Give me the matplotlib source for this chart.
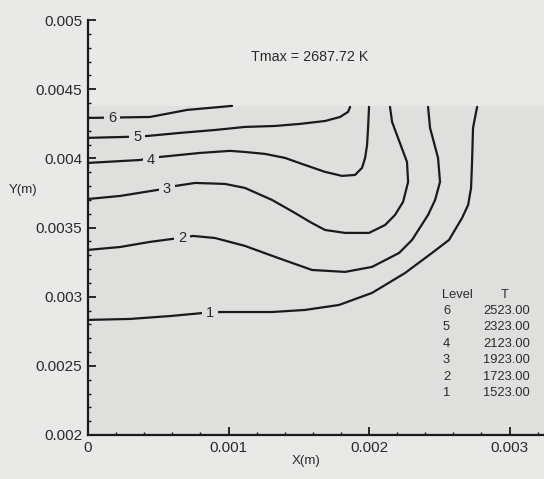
"""
Temperature contours, Tmax = 2687.72 K
"""

import matplotlib

matplotlib.use("Agg")
import matplotlib.pyplot as plt
from matplotlib.ticker import FixedLocator, MultipleLocator

plt.rcParams["font.family"] = ["Liberation Sans", "DejaVu Sans"]

# contour levels (legend table)
levels = [6, 5, 4, 3, 2, 1]
level_temps = [2523.00, 2323.00, 2123.00, 1923.00, 1723.00, 1523.00]

# contour lines, x and y in metres
c6_x = [0, 0.000441, 0.000705, 0.001025]
c6_y = [0.004292, 0.004299, 0.004350, 0.004379]

c5_x = [0, 0.000270, 0.000427, 0.000655, 0.000904, 0.001117, 0.001331,
        0.001509, 0.001687, 0.001794, 0.001851, 0.001865]
c5_y = [0.004148, 0.004155, 0.004162, 0.004184, 0.004205, 0.004227, 0.004234,
        0.004249, 0.004270, 0.004299, 0.004336, 0.004372]

c4_x = [0, 0.000370, 0.000512, 0.000797, 0.001011, 0.001117, 0.001260,
        0.001402, 0.001544, 0.001687, 0.001808, 0.001900, 0.001950,
        0.001972, 0.001986, 0.001993, 0.002000]
c4_y = [0.003967, 0.003988, 0.004010, 0.004039, 0.004054, 0.004046, 0.004032,
        0.004003, 0.003952, 0.003902, 0.003873, 0.003880, 0.003931,
        0.004003, 0.004097, 0.004220, 0.004372]

c3_x = [0, 0.000228, 0.000498, 0.000619, 0.000762, 0.000975, 0.001117,
        0.001310, 0.001473, 0.001580, 0.001687, 0.001829, 0.002000,
        0.002114, 0.002185, 0.002242, 0.002278, 0.002270, 0.002206,
        0.002164, 0.002149]
c3_y = [0.003706, 0.003728, 0.003772, 0.003800, 0.003822, 0.003815, 0.003786,
        0.003699, 0.003605, 0.003540, 0.003482, 0.003461, 0.003461,
        0.003518, 0.003591, 0.003685, 0.003829, 0.003974, 0.004148,
        0.004263, 0.004372]

c2_x = [0, 0.000228, 0.000441, 0.000598, 0.000747, 0.000904, 0.001117,
        0.001352, 0.001594, 0.001829, 0.002021, 0.002214, 0.002306,
        0.002420, 0.002470, 0.002505, 0.002491, 0.002434, 0.002420]
c2_y = [0.003338, 0.003359, 0.003396, 0.003417, 0.003439, 0.003424, 0.003367,
        0.003280, 0.003193, 0.003179, 0.003215, 0.003316, 0.003410,
        0.003591, 0.003699, 0.003829, 0.004003, 0.004220, 0.004372]

c1_x = [0, 0.000299, 0.000584, 0.000819, 0.000940, 0.001310, 0.001544,
        0.001786, 0.002021, 0.002256, 0.002448, 0.002569, 0.002662,
        0.002705, 0.002726, 0.002733, 0.002740, 0.002769]
c1_y = [0.002832, 0.002839, 0.002860, 0.002882, 0.002889, 0.002889, 0.002904,
        0.002940, 0.003027, 0.003171, 0.003316, 0.003410, 0.003569,
        0.003663, 0.003786, 0.003974, 0.004220, 0.004372]

# where the level numbers sit on the lines
label_x = [0.000171, 0.000349, 0.000448, 0.000562, 0.000669, 0.000868]
label_y = [0.004292, 0.004155, 0.003988, 0.003779, 0.003424, 0.002882]

x_ticks = [0, 0.001, 0.002, 0.003]
x_tick_labels = ["0", "0.001", "0.002", "0.003"]
y_ticks = [0.002, 0.0025, 0.003, 0.0035, 0.004, 0.0045, 0.005]
y_tick_labels = ["0.002", "0.0025", "0.003", "0.0035", "0.004", "0.0045", "0.005"]

domain_top = 0.00438

bg = "#e9e9e7"
domain_bg = "#dfdfdd"
ink = "#1a1a1a"
text_col = "#2a2a2a"

fig = plt.figure(figsize=(5.44, 4.79), dpi=100, facecolor=bg)
ax = fig.add_axes([88 / 544, 44 / 479, 456 / 544, 415 / 479])
ax.set_facecolor(bg)
ax.set_xlim(0, 0.003245)
ax.set_ylim(0.002, 0.005)

# shaded domain
ax.fill_between([0, 0.003245], 0.002, domain_top, color=domain_bg, lw=0, zorder=0)

lines = [(c6_x, c6_y), (c5_x, c5_y), (c4_x, c4_y),
         (c3_x, c3_y), (c2_x, c2_y), (c1_x, c1_y)]
for xs, ys in lines:
    ax.plot(xs, ys, color=ink, lw=1.6, solid_capstyle="round",
            solid_joinstyle="round", zorder=2)

for lev, lx, ly in zip(levels, label_x, label_y):
    ax.text(lx, ly, str(lev), fontsize=10.5, color=text_col, ha="center",
            va="center", zorder=3,
            bbox=dict(boxstyle="square,pad=0.3", fc=domain_bg, ec="none"))

# axes styling
for side in ("top", "right"):
    ax.spines[side].set_visible(False)
for side in ("left", "bottom"):
    ax.spines[side].set_linewidth(1.6)
    ax.spines[side].set_color(ink)

ax.xaxis.set_major_locator(FixedLocator(x_ticks))
ax.set_xticklabels(x_tick_labels)
ax.yaxis.set_major_locator(FixedLocator(y_ticks))
ax.set_yticklabels(y_tick_labels)
ax.xaxis.set_minor_locator(MultipleLocator(0.0002))
ax.yaxis.set_minor_locator(MultipleLocator(0.0001))
ax.tick_params(which="major", direction="in", length=6, width=1.3,
               color=ink, labelsize=11, labelcolor=text_col, pad=4)
ax.tick_params(which="minor", direction="in", length=2.5, width=1.0, color=ink)

fig.text(37 / 544, 1 - 190 / 479, "Y(m)", fontsize=9.5, color=text_col,
         ha="right", va="center")
fig.text(306 / 544, 1 - 461 / 479, "X(m)", fontsize=9.5, color=text_col,
         ha="center", va="center")
fig.text(310 / 544, 1 - 57 / 479, "Tmax = 2687.72 K", fontsize=10.3,
         color=text_col, ha="center", va="center")

# level table
fig.text(442 / 544, 1 - 295 / 479, "Level", fontsize=9.3, color=text_col,
         ha="left", va="center")
fig.text(505 / 544, 1 - 295 / 479, "T", fontsize=9.3, color=text_col,
         ha="center", va="center")
for i, (lev, temp) in enumerate(zip(levels, level_temps)):
    yy = 1 - (311 + i * 16.4) / 479
    fig.text(443 / 544, yy, str(lev), fontsize=9.3, color=text_col,
             ha="left", va="center")
    fig.text(530 / 544, yy, f"{temp:.2f}", fontsize=9.3, color=text_col,
             ha="right", va="center")

fig.savefig("out.png", dpi=100, facecolor=bg)
